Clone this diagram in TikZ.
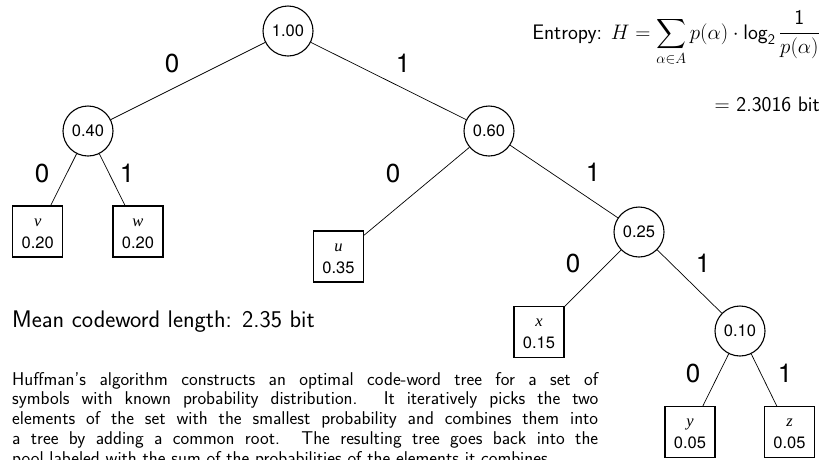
\RequirePackage{fix-cm}
\documentclass[tikz,border=0pt]{standalone}
\usepackage{amsmath}
\usepackage{fontspec}
\setmainfont{TeX Gyre Heros}
\newfontfamily\tms{Liberation Serif}
\newcommand{\sflog}{\mathop{\text{log}}\nolimits}
\begin{document}
\begin{tikzpicture}[x=1pt,y=-1pt,
  inner/.style={circle, draw, line width=1.1pt, minimum size=50pt, inner sep=0pt, font=\fontsize{16.5}{18}\selectfont},
  leaf/.style={rectangle, draw, line width=1.1pt, minimum width=50pt, minimum height=51pt, inner sep=0pt, align=center, font=\fontsize{16.5}{22}\selectfont},
  bit/.style={inner sep=0pt, font=\fontsize{26}{30}\selectfont},
  edge/.style={line width=0.7pt},
  note/.style={inner sep=0pt, font=\sffamily\fontsize{21}{25}\selectfont}]
\useasboundingbox (0,0) rectangle (821,459);
\clip (0,0) rectangle (821,459);
% inner nodes
\node[inner] (r) at (288,31) {1.00};
\node[inner] (a) at (88,131) {0.40};
\node[inner] (b) at (489,131) {0.60};
\node[inner] (c) at (639,232) {0.25};
\node[inner] (d) at (740,331) {0.10};
% leaves
\node[leaf] (v) at (37.7,231.5) {\vphantom{0}{\tms\itshape v}\\0.20};
\node[leaf] (w) at (138,231.5) {\vphantom{0}{\tms\itshape w}\\0.20};
\node[leaf] (u) at (338.5,256.5) {\vphantom{0}{\tms\itshape u}\\0.35};
\node[leaf] (x) at (539,332) {\vphantom{0}{\tms\itshape x}\\0.15};
\node[leaf] (y) at (690,432) {\vphantom{0}{\tms\itshape y}\\0.05};
\node[leaf] (z) at (789.5,432) {\vphantom{0}{\tms\itshape z}\\0.05};
% edges
\draw[edge] (r) -- (a);
\draw[edge] (r) -- (b);
\draw[edge] (a) -- (v);
\draw[edge] (a) -- (w);
\draw[edge] (b) -- (u);
\draw[edge] (b) -- (c);
\draw[edge] (c) -- (x);
\draw[edge] (c) -- (d);
\draw[edge] (d) -- (y);
\draw[edge] (d) -- (z);
% edge labels
\node[bit] (l1) at (172,63) {0};
\node[bit] (l2) at (403,63) {1};
\node[bit] (l3) at (42,173) {0};
\node[bit] (l4) at (127,173) {1};
\node[bit] (l5) at (393,173) {0};
\node[bit] (l6) at (593,172) {1};
\node[bit] (l7) at (573,263) {0};
\node[bit] (l8) at (703,263) {1};
\node[bit] (l9) at (693,373) {0};
\node[bit] (l10) at (785,373) {1};
% texts
\node[note, anchor=base east] (ent) at (820,39)
  {Entropy: $H = \displaystyle\sum_{\alpha\in A} p(\alpha)\cdot\sflog_{\text{2}}\frac{\text{1}}{p(\alpha)}$};
\node[note, anchor=base east] (entv) at (820,111)
  {$=$ 2.3016 bit};
\node[note, anchor=base west, font=\sffamily\fontsize{24}{28}\selectfont] (mean) at (12,327)
  {Mean codeword length: 2.35 bit};
\node[anchor=north west, inner sep=0pt, text width=586pt, align=justify,
  font=\sffamily\fontsize{18.5}{19.8}\selectfont] (para) at (12,372)
  {Huffman's algorithm constructs an optimal code-word tree for a set of\linebreak
   symbols with known probability distribution. It iteratively picks the two\linebreak
   elements of the set with the smallest probability and combines them into\linebreak
   a tree by adding a common root. The resulting tree goes back into the\linebreak
   pool labeled with the sum of the probabilities of the elements it combines.};
\end{tikzpicture}
\end{document}
